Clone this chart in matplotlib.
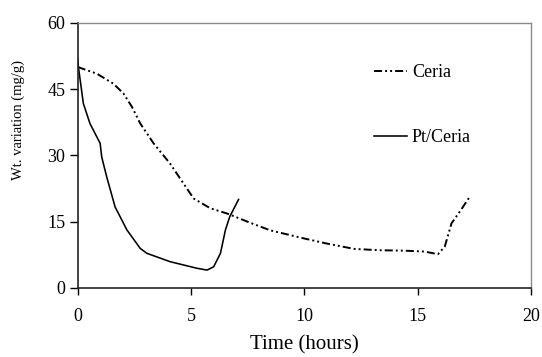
import matplotlib
matplotlib.use("Agg")
import matplotlib.pyplot as plt

plt.rcParams['font.family'] = ['Liberation Serif', 'DejaVu Serif']
plt.rcParams['lines.scale_dashes'] = False

ceria_x = [0.0, 0.84, 1.58, 2.02, 2.39, 2.76, 3.35, 4.08, 4.67, 5.12, 5.85, 6.6, 7.62, 8.5, 9.96, 11.0, 12.2, 13.3, 14.4, 15.3, 15.9, 16.2, 16.5, 16.9, 17.3]
ceria_y = [50.0, 48.5, 46.2, 44.0, 41.0, 37.2, 32.7, 28.1, 23.6, 20.2, 18.0, 16.8, 14.7, 13.0, 11.2, 10.0, 8.8, 8.5, 8.4, 8.2, 7.6, 9.3, 14.6, 17.5, 20.6]

pt_x = [0.0, 0.03, 0.25, 0.54, 0.84, 0.99, 1.06, 1.28, 1.65, 2.17, 2.76, 3.05, 4.08, 5.27, 5.71, 6.0, 6.3, 6.52, 6.71, 7.1]
pt_y = [51.9, 50.0, 41.7, 37.2, 34.2, 32.7, 29.6, 25.1, 18.3, 13.1, 8.9, 7.8, 5.9, 4.4, 4.0, 4.75, 7.8, 13.1, 16.1, 20.0]

x_ticks = [0, 5, 10, 15, 20]
y_ticks = [0, 15, 30, 45, 60]

fig = plt.figure(figsize=(5.42, 3.57), dpi=100)
ax = fig.add_axes([0.1434, 0.194, 0.836, 0.742])

ax.plot(ceria_x, ceria_y, color='black', lw=1.4, dashes=(5.8, 2.2, 1.4, 2.2, 1.4, 2.2),
        label='Ceria', solid_joinstyle='round')
ax.plot(pt_x, pt_y, color='black', lw=1.15, label='Pt/Ceria', solid_joinstyle='round')

ax.set_xlim(0, 20)
ax.set_ylim(0, 60)
ax.set_xticks(x_ticks)
ax.set_yticks(y_ticks)
ax.tick_params(axis='both', labelsize=13, colors='black', width=1.0)
ax.tick_params(axis='x', length=5, pad=9.5)
ax.tick_params(axis='y', length=5.5, pad=3.5)

for s in ['top', 'right']:
    ax.spines[s].set_color('#8a8a8a')
    ax.spines[s].set_linewidth(1.0)
for s in ['left', 'bottom']:
    ax.spines[s].set_color('#222222')
    ax.spines[s].set_linewidth(1.2)

ax.set_xlabel('Time (hours)', fontsize=15)
ax.xaxis.set_label_coords(0.5, -0.178)
ax.set_ylabel('Wt. variation (mg/g)', fontsize=10.5)
ax.yaxis.set_label_coords(-0.117, 0.633)

leg = ax.legend(loc='upper left', bbox_to_anchor=(0.654, 0.843), frameon=False,
                fontsize=13, handlelength=1.8, handletextpad=0.3, labelspacing=2.65,
                borderpad=0, borderaxespad=0)

fig.savefig('out.png', dpi=100)
